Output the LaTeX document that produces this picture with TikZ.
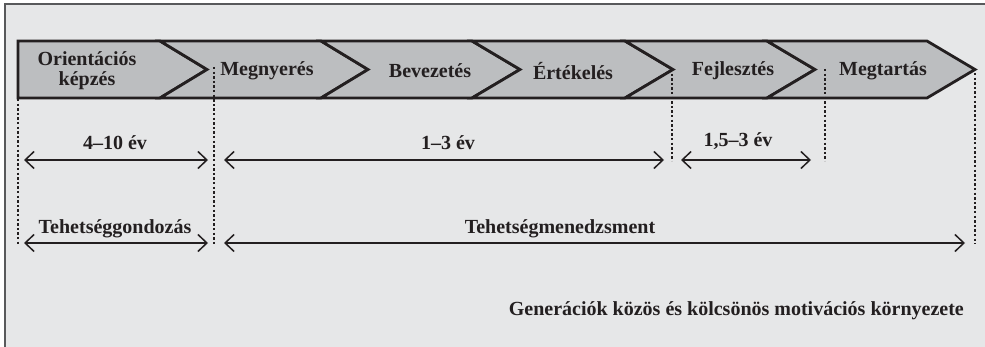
\documentclass[tikz,border=0pt]{standalone}
\usepackage{fontspec}
\setmainfont{Liberation Serif}
\usetikzlibrary{arrows.meta}
\definecolor{bgframe}{HTML}{E6E7E8}
\definecolor{framebd}{HTML}{58595B}
\definecolor{chevfill}{HTML}{BCBEC0}
\definecolor{ink}{HTML}{231F20}
\tikzset{
  chev/.style={draw=ink, fill=chevfill, line width=2.8pt, line join=miter},
  lbl/.style={font=\fontsize{20}{20}\selectfont\bfseries, text=ink, inner sep=0pt, align=center},
  span/.style={draw=ink, line width=1.5pt, {Straight Barb[length=9pt,width=17pt,line width=1.5pt]}-{Straight Barb[length=9pt,width=17pt,line width=1.5pt]}},
  dots/.style={draw=ink, line width=2.6pt, dash pattern=on 2.4pt off 2.2pt},
}
\begin{document}
\begin{tikzpicture}[x=1pt,y=-1pt]
\useasboundingbox (0,0) rectangle (985,347);
\fill[white] (0,0) rectangle (985,347);
\draw[fill=bgframe, draw=framebd, line width=2pt] (5,4) rectangle (995,360);
% chevrons
\draw[chev] (18,41) -- (160,41) -- (207,69.5) -- (160,98) -- (18,98) -- cycle;
\draw[chev] (160,41) -- (321,41) -- (368,69.5) -- (321,98) -- (160,98) -- (207,69.5) -- cycle;
\draw[chev] (321,41) -- (472,41) -- (520,69.5) -- (472,98) -- (321,98) -- (368,69.5) -- cycle;
\draw[chev] (472,41) -- (625,41) -- (673,69.5) -- (625,98) -- (472,98) -- (520,69.5) -- cycle;
\draw[chev] (625,41) -- (767,41) -- (815,69.5) -- (767,98) -- (625,98) -- (673,69.5) -- cycle;
\draw[chev] (767,41) -- (927,41) -- (975,69.5) -- (927,98) -- (767,98) -- (815,69.5) -- cycle;
\node[lbl] (c1) at (87,71) {Orientációs\\képzés};
\node[lbl] (c2) at (267,71) {Megnyerés};
\node[lbl] (c3) at (430,71) {Bevezetés};
\node[lbl] (c4) at (573,71) {Értékelés};
\node[lbl] (c5) at (733,71) {Fejlesztés};
\node[lbl] (c6) at (883,71) {Megtartás};
% dotted guides
\coordinate (d1t) at (18,99);  \coordinate (d1b) at (18,244);
\coordinate (d2t) at (214,67); \coordinate (d2b) at (214,244);
\coordinate (d3t) at (672,69); \coordinate (d3b) at (672,161);
\coordinate (d4t) at (825,69); \coordinate (d4b) at (825,161);
\coordinate (d5t) at (975,73); \coordinate (d5b) at (975,244);
\draw[dots] (d1t) -- (d1b);
\draw[dots] (d2t) -- (d2b);
\draw[dots] (d3t) -- (d3b);
\draw[dots] (d4t) -- (d4b);
\draw[dots] (d5t) -- (d5b);
% row 1 spans
\coordinate (a1l) at (24,160);  \coordinate (a1r) at (208,160);
\coordinate (a2l) at (224,160); \coordinate (a2r) at (664,160);
\coordinate (a3l) at (681,160); \coordinate (a3r) at (811,160);
\draw[span] (a1l) -- (a1r);
\draw[span] (a2l) -- (a2r);
\draw[span] (a3l) -- (a3r);
\node[lbl] (t1) at (115,143) {4–10 év};
\node[lbl] (t2) at (448,143) {1–3 év};
\node[lbl] (t3) at (738,141) {1,5–3 év};
% row 2 spans
\coordinate (b1l) at (24,243);  \coordinate (b1r) at (208,243);
\coordinate (b2l) at (224,243); \coordinate (b2r) at (965,243);
\draw[span] (b1l) -- (b1r);
\draw[span] (b2l) -- (b2r);
\node[lbl] (u1) at (115,229) {Tehetséggondozás};
\node[lbl] (u2) at (560,229) {Tehetségmenedzsment};
% bottom caption
\node[lbl, anchor=east] (cap) at (964,311) {Generációk közös és kölcsönös motivációs környezete};
\end{tikzpicture}
\end{document}
